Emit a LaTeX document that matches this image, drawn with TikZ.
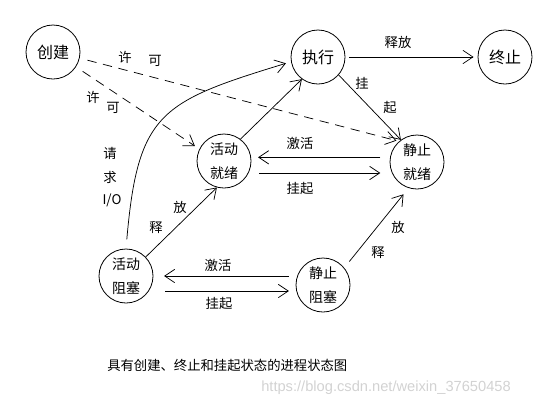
\documentclass[tikz,border=0pt]{standalone}
\usepackage{fontspec}
\setmainfont{Noto Sans CJK SC}
\newfontfamily\wmfont{Liberation Sans}
\usetikzlibrary{arrows.meta}

\tikzset{
  state/.style={circle, draw, line width=0.6pt, minimum size=40.5pt, inner sep=0pt,
    align=center, font=\fontsize{10.5}{18}\selectfont},
  bigstate/.style={state, font=\fontsize{12}{14}\selectfont},
  trans/.style={line width=0.55pt, -{Straight Barb[length=7.5pt,width=10pt]}},
  permit/.style={trans, dash pattern=on 7pt off 5pt},
  lbl/.style={font=\fontsize{10}{12}\selectfont, inner sep=0pt},
}

\begin{document}
\begin{tikzpicture}[x=0.75pt,y=-0.75pt]
\useasboundingbox (0,0) rectangle (542,405);

% states
\node[bigstate] (create) at (53,52) {创建};
\node[bigstate] (exec) at (318,57) {执行};
\node[bigstate] (term) at (505,57) {终止};
\node[state] (aready) at (224,161) {活动\\就绪};
\node[state] (sready) at (417,162) {静止\\就绪};
\node[state] (ablock) at (126,276) {活动\\阻塞};
\node[state] (sblock) at (323,285) {静止\\阻塞};

% admit
\draw[permit, shorten <=6pt, shorten >=2pt] (create.-13) -- (sready.131);
\draw[permit, shorten <=6pt, shorten >=4pt] (create.-33) -- (aready.154);
\node[lbl] (ok1a) at (125,57) {许};
\node[lbl] (ok1b) at (155,61) {可};
\node[lbl] (ok2a) at (93,97) {许};
\node[lbl] (ok2b) at (113,108) {可};

% running
\draw[trans] (aready.53) -- (exec.234);
\draw[trans, shorten <=3pt, shorten >=3pt] (exec) -- (term);
\node[lbl] (rel1) at (398,42) {释放};
\draw[trans] (exec.-41) -- (sready.126);
\node[lbl] (sus1a) at (362,83) {挂};
\node[lbl] (sus1b) at (390,107) {起};

% request I/O
\draw[trans, shorten <=7pt, shorten >=4pt] (ablock.north)
  to[out=85, in=197, looseness=1.4] (exec.190);
\node[lbl] (io1) at (110,153) {请};
\node[lbl] (io2) at (110,177) {求};
\node[lbl] (io3) at (112,200) {I/O};

% ready pair
\coordinate (ra) at ([yshift=3.5pt]sready.west);
\draw[trans, shorten <=7pt, shorten >=5pt] (ra) -- (aready.east |- ra);
\node[lbl] (act1) at (300,143) {激活};
\coordinate (rs) at ([yshift=-9pt]aready.east);
\draw[trans, shorten <=6pt, shorten >=7pt] (rs) -- (sready.west |- rs);
\node[lbl] (sus2) at (300,188) {挂起};

% blocked pair
\coordinate (ba) at (sblock.west |- ablock.east);
\draw[trans, shorten <=5pt, shorten >=8pt] (ba) -- (ablock.east);
\node[lbl] (act2) at (218,265) {激活};
\coordinate (bs) at ([yshift=-11.25pt]ablock.east);
\draw[trans, shorten <=9pt, shorten >=5pt] (bs) -- (sblock.west |- bs);
\node[lbl] (sus3) at (219,303) {挂起};

% release
\draw[trans] (ablock.44) -- (aready.255);
\node[lbl] (rel2a) at (180,207) {放};
\node[lbl] (rel2b) at (156,227) {释};
\draw[trans, shorten <=6pt, shorten >=6pt] (sblock.39) -- (sready.252);
\node[lbl] (rel3a) at (398,227) {放};
\node[lbl] (rel3b) at (378,252) {释};

% caption
\node[lbl, anchor=west] (cap) at (107,365) {具有创建、终止和挂起状态的进程状态图};
\node[anchor=west, inner sep=0pt, text=gray!35, font=\wmfont\fontsize{11}{13}\selectfont]
  (mark) at (261,388) {https://blog.csdn.net/weixin\_37650458};
\end{tikzpicture}
\end{document}
